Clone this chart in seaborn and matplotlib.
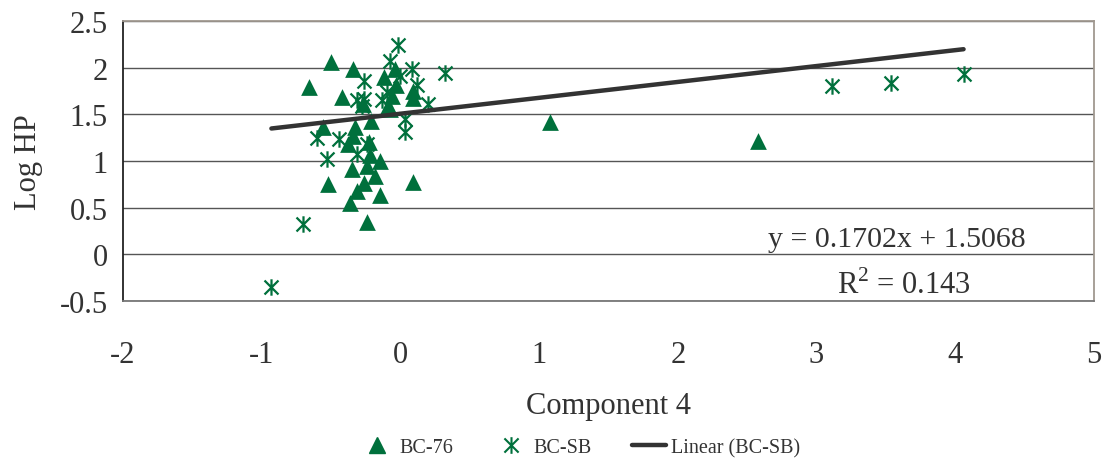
import numpy as np
import matplotlib
matplotlib.use("Agg")
import matplotlib.pyplot as plt
from matplotlib.path import Path
from matplotlib.lines import Line2D
import seaborn as sns

# BC-76 (triangles)
bc76_x = [-0.66, -0.50, -0.34, -0.42, -0.12, -0.04, -0.03, -0.06, -0.09, 0.09,
          0.09, -0.27, -0.21, -0.56, -0.33, -0.38, -0.23, -0.22, -0.15, -0.24,
          -0.35, -0.18, -0.26, -0.52, -0.31, -0.15, 0.09, -0.36, -0.24, -0.075,
          -0.34, 1.08, 2.58]
bc76_y = [1.79, 2.06, 1.99, 1.69, 1.90, 1.99, 1.81, 1.70, 1.59, 1.75,
          1.68, 1.61, 1.43, 1.36, 1.36, 1.18, 1.20, 1.06, 1.00, 0.95,
          0.91, 0.84, 0.77, 0.75, 0.68, 0.64, 0.78, 0.55, 0.35, 1.56,
          1.27, 1.42, 1.21]

# BC-SB (stars)
bcsb_x = [-0.015, -0.075, 0.08, 0.32, -0.26, 0.12, 0.0, -0.10, -0.31, -0.26,
          -0.28, 0.20, 0.03, 0.03, -0.60, -0.44, -0.53, -0.31, -0.24, -0.70,
          -0.93, 3.11, 3.54, 4.06, -0.13]
bcsb_y = [2.24, 2.07, 1.99, 1.94, 1.86, 1.81, 1.91, 1.74, 1.65, 1.66,
          1.59, 1.61, 1.45, 1.31, 1.25, 1.24, 1.02, 1.08, 1.18, 0.33,
          -0.35, 1.80, 1.84, 1.93, 1.65]

# trendline from chart text
slope = 0.1702
intercept = 1.5068
r2 = 0.143

green = "#00703c"
dark = "#333333"

star = Path([(0, -1), (0, 1), (-0.85, -0.85), (0.85, 0.85), (-0.85, 0.85), (0.85, -0.85)],
            [Path.MOVETO, Path.LINETO, Path.MOVETO, Path.LINETO, Path.MOVETO, Path.LINETO])

sns.set_style("white")
plt.rcParams["font.family"] = ["Liberation Serif", "DejaVu Serif"]
plt.rcParams["axes.unicode_minus"] = False
plt.rcParams["mathtext.fontset"] = "custom"
plt.rcParams["mathtext.rm"] = "Liberation Serif"

fig = plt.figure(figsize=(11.05, 4.64), dpi=100)
ax = fig.add_axes([0.1113, 0.349, 0.8787, 0.6036])

for yv in np.arange(-0.5, 2.51, 0.5):
    ax.axhline(yv, color="#555555", lw=1, zorder=0)

sns.scatterplot(x=bc76_x, y=bc76_y, marker="^", s=145, color=green,
                edgecolor=green, linewidth=0, ax=ax, zorder=3)
sns.scatterplot(x=bcsb_x, y=bcsb_y, marker=star, s=140, color=green,
                edgecolor=green, linewidth=1.6, ax=ax, zorder=3)

lx = np.array([min(bcsb_x), max(bcsb_x)])
sns.lineplot(x=lx, y=slope * lx + intercept, color=dark, lw=3.2, ax=ax, zorder=4)

ax.set_xlim(-2, 5)
ax.set_ylim(-0.5, 2.5)
ax.set_xticks(range(-2, 6))
ax.set_yticks(np.arange(-0.5, 2.51, 0.5))
ax.set_yticklabels(["-0.5", "0", "0.5", "1", "1.5", "2", "2.5"])

ax.tick_params(axis="x", direction="out", length=7, width=1, pad=21,
               labelsize=22, colors=dark)
ax.tick_params(axis="y", direction="inout", length=12, width=1, pad=5,
               labelsize=22, colors=dark)
ax.spines["left"].set_color("#222222")
ax.spines["bottom"].set_color("#777777")
ax.spines["top"].set_color("#a09890")
ax.spines["right"].set_color("#a09890")
for s in ax.spines.values():
    s.set_linewidth(1.3)

ax.set_xlabel("Component 4", fontsize=22, color=dark, labelpad=16)
ax.set_ylabel("Log HP", fontsize=22, color=dark, labelpad=12)

ax.text(3.58, 0.16, f"y = {slope:.4f}x + {intercept:.4f}", fontsize=21.5,
        color=dark, ha="center", va="center")
ax.text(3.63, -0.32, f"R$^2$ = {r2}", fontsize=22, color=dark,
        ha="center", va="center")

handles = [
    Line2D([], [], marker="^", ls="", color=green, markersize=12),
    Line2D([], [], marker=star, ls="", color=green, markeredgewidth=1.5,
           markersize=12),
    Line2D([], [], color=dark, lw=3.2),
]
fig.legend(handles, ["BC-76", "BC-SB", "Linear (BC-SB)"], loc="lower center",
           bbox_to_anchor=(0.525, -0.027), ncol=3, frameon=False, fontsize=14.5,
           handlelength=1.7, columnspacing=2.0, handletextpad=0.25,
           labelcolor=dark)

fig.savefig("out.png", dpi=100)
